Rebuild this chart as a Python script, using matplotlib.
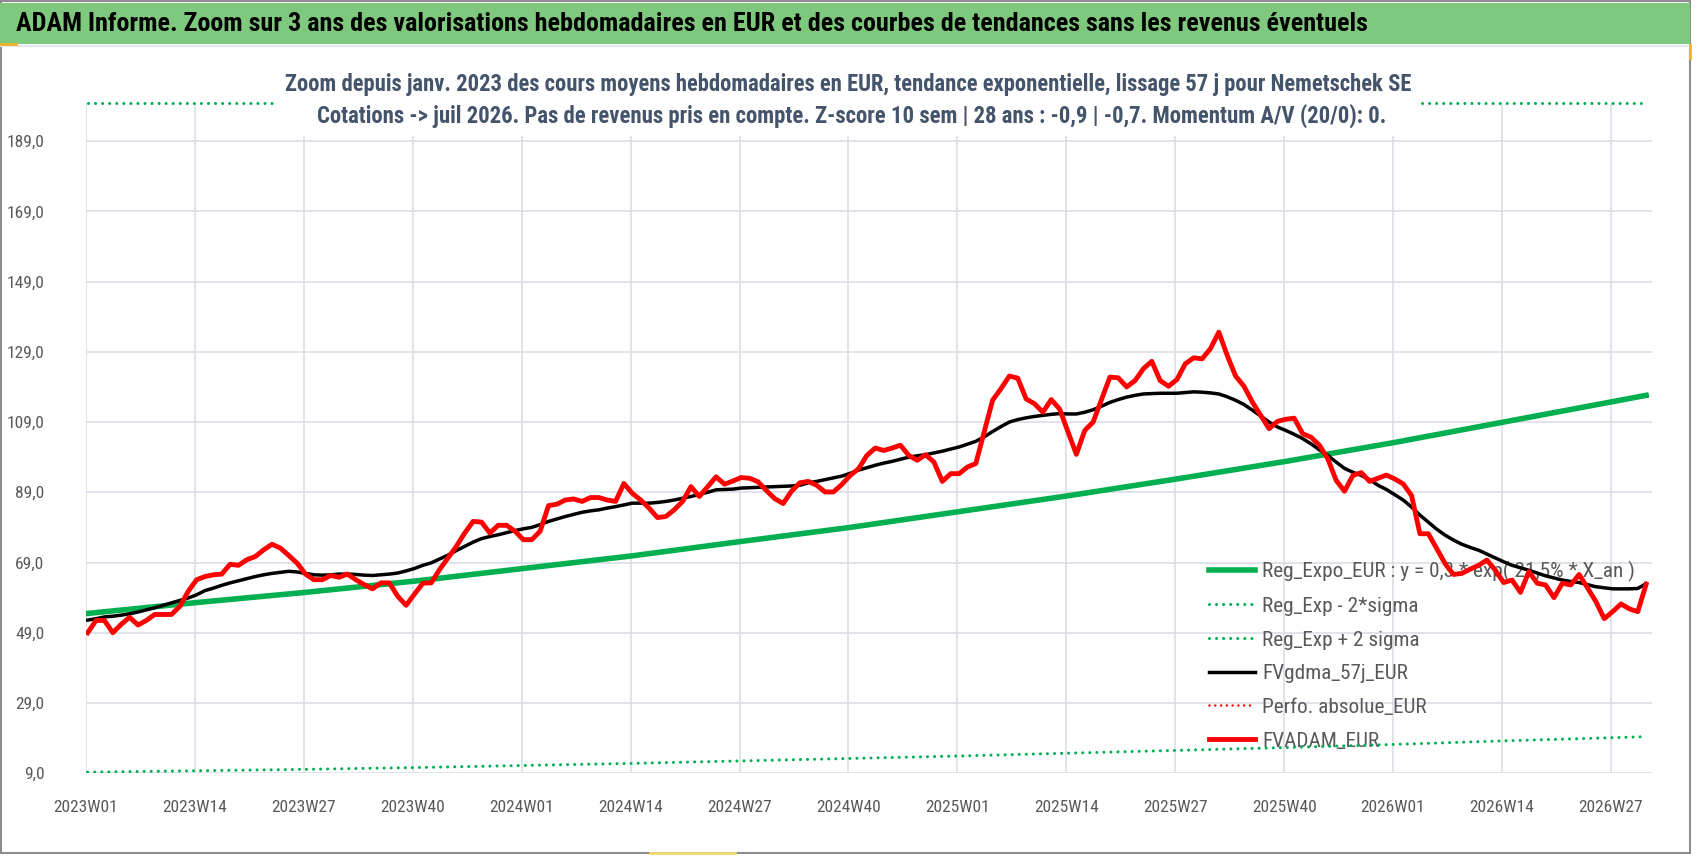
import numpy as np
import matplotlib
matplotlib.use("Agg")
import matplotlib.pyplot as plt
from matplotlib import font_manager as fm
from matplotlib.patches import Rectangle
from matplotlib.lines import Line2D

# ---- data (weekly, 2023W01 .. 2026W31) ----
tick_labels = ["2023W01", "2023W14", "2023W27", "2023W40", "2024W01", "2024W14", "2024W27",
               "2024W40", "2025W01", "2025W14", "2025W27", "2025W40", "2026W01", "2026W14",
               "2026W27"]

fvadam = [49.0, 52.5, 52.5, 49.0, 51.4, 53.4, 51.2, 52.5, 54.2, 54.2,
          54.2, 56.5, 60.8, 64.1, 65.0, 65.5, 65.7, 68.5, 68.2, 69.8,
          70.7, 72.6, 74.2, 73.1, 71.0, 68.8, 65.7, 64.1, 64.1, 65.3,
          64.8, 65.7, 64.1, 62.7, 61.5, 63.2, 63.2, 59.4, 56.8, 60.0,
          63.1, 63.2, 67.0, 70.3, 73.6, 77.4, 80.7, 80.5, 77.4, 79.6,
          79.6, 77.9, 75.5, 75.5, 77.9, 85.2, 85.6, 86.8, 87.1, 86.4,
          87.5, 87.5, 86.8, 86.4, 91.5, 88.7, 86.8, 84.5, 81.8, 82.1,
          84.0, 86.4, 90.6, 87.8, 90.6, 93.4, 91.3, 92.2, 93.2, 93.0,
          92.0, 89.5, 87.2, 85.8, 89.3, 91.7, 92.1, 91.0, 89.1, 89.1,
          91.2, 93.8, 95.7, 99.5, 101.6, 100.9, 101.6, 102.4, 99.5, 98.1,
          99.7, 97.6, 92.1, 94.3, 94.3, 96.2, 97.2, 106.2, 115.2, 118.5,
          122.1, 121.5, 115.6, 114.2, 111.8, 115.4, 112.7, 106.2, 99.8, 106.6,
          109.0, 115.4, 121.8, 121.6, 119.0, 120.8, 124.2, 126.3, 120.8, 119.2,
          121.1, 125.6, 127.3, 127.0, 129.9, 134.6, 128.0, 122.1, 119.2, 114.7,
          110.9, 107.1, 109.2, 109.8, 110.1, 105.7, 104.7, 102.4, 98.6, 92.4,
          89.3, 93.8, 94.6, 92.1, 93.0, 93.9, 92.8, 91.4, 88.1, 77.2,
          77.2, 73.0, 68.7, 65.6, 65.9, 67.1, 68.2, 69.7, 66.8, 63.3,
          64.0, 60.5, 66.4, 63.1, 62.6, 59.0, 63.1, 62.6, 65.6, 61.8,
          57.9, 53.0, 55.0, 57.2, 55.8, 55.0, 62.8]

fvgdma = [52.6, 53.0, 53.5, 53.7, 54.0, 54.4, 54.9, 55.5, 56.1, 56.8,
          57.5, 58.2, 58.9, 59.8, 61.0, 61.7, 62.5, 63.2, 63.8, 64.4,
          65.0, 65.5, 65.9, 66.2, 66.5, 66.3, 65.9, 65.5, 65.4, 65.5,
          65.7, 65.7, 65.6, 65.4, 65.3, 65.5, 65.7, 66.0, 66.6, 67.3,
          68.2, 68.9, 70.0, 71.1, 72.4, 73.6, 74.8, 75.8, 76.4, 76.9,
          77.5, 78.1, 78.6, 79.0, 79.8, 80.7, 81.4, 82.1, 82.7, 83.3,
          83.7, 84.0, 84.5, 84.9, 85.4, 85.9, 85.9, 85.9, 86.1, 86.4,
          86.8, 87.3, 87.8, 88.4, 89.0, 89.7, 89.8, 89.9, 90.2, 90.3,
          90.4, 90.5, 90.6, 90.7, 90.8, 91.0, 91.7, 92.1, 92.6, 93.1,
          93.6, 94.4, 95.3, 96.0, 96.7, 97.3, 97.8, 98.4, 99.0, 99.4,
          99.7, 100.2, 100.7, 101.3, 101.9, 102.7, 103.5, 104.8, 106.3, 107.7,
          109.0, 109.7, 110.2, 110.6, 110.9, 111.2, 111.4, 111.3, 111.3, 111.8,
          112.5, 113.5, 114.6, 115.4, 116.1, 116.6, 117.0, 117.1, 117.2, 117.2,
          117.2, 117.4, 117.6, 117.5, 117.3, 117.0, 116.2, 115.2, 114.0, 112.4,
          110.7, 109.0, 107.6, 106.6, 105.5, 104.3, 102.8, 101.1, 99.5, 97.6,
          95.8, 94.7, 93.8, 92.6, 91.0, 89.8, 88.3, 86.8, 84.8, 82.5,
          80.5, 78.5, 76.8, 75.4, 74.2, 73.3, 72.5, 71.4, 70.3, 69.2,
          68.2, 67.5, 66.8, 66.0, 65.2, 64.6, 64.0, 63.6, 63.3, 62.7,
          62.1, 61.8, 61.5, 61.5, 61.5, 61.6, 63.0]

# trend curves, read every 13 weeks (+ last week)
trend_weeks = [0, 13, 26, 39, 52, 65, 78, 91, 104, 117, 130, 143, 156, 169, 186]
reg_expo = [54.5, 57.6, 60.5, 63.7, 67.3, 70.9, 75.0, 79.0, 83.5, 88.0, 92.8, 97.8, 103.2, 109.0, 116.6]
reg_minus = [9.3, 9.7, 10.1, 10.6, 11.2, 11.8, 12.5, 13.2, 13.9, 14.7, 15.5, 16.3, 17.2, 18.2, 19.4]
reg_plus = [326, 345, 362, 381, 403, 424, 449, 473, 500, 527, 556, 585, 618, 652, 698]

title = ("ADAM Informe. Zoom sur 3 ans des valorisations hebdomadaires en EUR et des courbes "
         "de tendances sans les revenus éventuels")
sub1 = ("Zoom depuis janv. 2023 des cours moyens hebdomadaires en EUR, tendance exponentielle, "
        "lissage 57 j pour Nemetschek SE")
sub2 = ("Cotations -> juil 2026. Pas de revenus pris en compte. Z-score 10 sem | 28 ans : "
        "-0,9 | -0,7. Momentum A/V (20/0): 0.")
labels = ["Reg_Expo_EUR : y = 0,3 * exp( 21,5% * X_an )", "Reg_Exp - 2*sigma",
          "Reg_Exp + 2 sigma", "FVgdma_57j_EUR", "Perfo. absolue_EUR", "FVADAM_EUR"]


def pick_font(names):
    for n in names:
        try:
            fm.findfont(fm.FontProperties(family=n), fallback_to_default=False)
            return n
        except ValueError:
            pass
    return "DejaVu Sans"


NARROW = pick_font(["Liberation Sans Narrow", "Arial Narrow", "Roboto Condensed", "Liberation Sans"])
plt.rcParams["font.family"] = [NARROW, "DejaVu Sans"]

W, H = 1698, 856
fx = lambda x: x / W
fy = lambda y: 1 - y / H

GREEN = "#00b050"
RED = "#ff0000"
GREY = "#595959"
YMAX = 200
DOT = (0, (0.01, 2.3))

fig = plt.figure(figsize=(W / 100, H / 100), dpi=100)
renderer = fig.canvas.get_renderer()
ax = fig.add_axes([fx(86), fy(773.2), (1652 - 86) / W, (773.2 - 102.5) / H])

x = np.arange(len(fvadam)) + 0.2
xt = np.array(trend_weeks) + 0.2

ax.plot(xt, reg_expo, color=GREEN, lw=4.0, solid_joinstyle="round", zorder=3)
ax.plot(xt, reg_minus, color=GREEN, lw=2.2, ls=DOT, dash_capstyle="round", zorder=3)
# excel keeps the out-of-range curve on the plot border
ax.plot(xt, np.minimum(reg_plus, YMAX), color=GREEN, lw=2.2, ls=DOT,
        dash_capstyle="round", zorder=3, clip_on=False)
ax.plot(x, fvgdma, color="black", lw=2.5, solid_joinstyle="round", zorder=4)
ax.plot(x, fvadam, color=RED, lw=3.5, solid_joinstyle="round", zorder=5)

ax.set_xlim(0, 186.9)
ax.set_ylim(9, YMAX)
ax.set_yticks(np.arange(9, 190, 20))
ax.set_yticklabels([f"{v:.1f}".replace(".", ",") for v in np.arange(9, 190, 20)])
ax.set_xticks(np.arange(0, 183, 13))
ax.set_xticklabels(tick_labels)
ax.tick_params(axis="y", length=0, pad=30, labelsize=12.5, labelcolor=GREY)
ax.tick_params(axis="x", length=0, pad=19, labelsize=12.5, labelcolor=GREY)
ax.grid(True, color="#dadee6", lw=1.2)
ax.set_axisbelow(True)
for s in ax.spines.values():
    s.set_visible(False)

# legend font sized so the first label spans ~373 px like the original
tmp = fig.text(0, 0, labels[0], fontsize=13)
leg_fs = 13 * 373 / tmp.get_window_extent(renderer).width
tmp.remove()
fs_px = leg_fs * 100 / 72

handles = [
    Line2D([], [], color=GREEN, lw=4.0),
    Line2D([], [], color=GREEN, lw=2.2, ls=DOT, dash_capstyle="round"),
    Line2D([], [], color=GREEN, lw=2.2, ls=DOT, dash_capstyle="round"),
    Line2D([], [], color="black", lw=2.5),
    Line2D([], [], color=RED, lw=1.8, ls=DOT, dash_capstyle="round"),
    Line2D([], [], color=RED, lw=3.5),
]
leg = ax.legend(handles, labels, loc="upper left", bbox_to_anchor=(fx(1209), fy(561)),
                bbox_transform=fig.transFigure, frameon=False, fontsize=leg_fs,
                handlelength=46 / fs_px, handletextpad=7 / fs_px, labelspacing=0.69,
                borderpad=0, borderaxespad=0, labelcolor=GREY)
leg.set_zorder(1)

# frame, title bar
fig.add_artist(Rectangle((fx(1), fy(853)), fx(1690) - fx(1), (853 - 1) / H,
                         transform=fig.transFigure, fill=False, ec="#8c8c8c", lw=1.5, zorder=0))
fig.add_artist(Rectangle((0, fy(44)), fx(1690), 41 / H, transform=fig.transFigure,
                         fc="#7fc97f", ec="none", zorder=1))
fig.add_artist(Line2D([0, fx(1690)], [fy(46), fy(46)], transform=fig.transFigure,
                      color="#e3e6ea", lw=1.5, zorder=1))
fig.add_artist(Line2D([0, fx(16)], [fy(44), fy(44)], transform=fig.transFigure,
                      color="#f0b429", lw=2, zorder=2))
fig.add_artist(Line2D([fx(1690), fx(1690)], [fy(45), fy(58)], transform=fig.transFigure,
                      color="#f0b429", lw=2, zorder=2))
fig.add_artist(Line2D([fx(650), fx(735)], [fy(853), fy(853)], transform=fig.transFigure,
                      color="#f5d76e", lw=2, zorder=2))

# white box behind the subtitle
fig.add_artist(Rectangle((fx(276), fy(136)), fx(1419) - fx(276), (136 - 56) / H,
                         transform=fig.transFigure, fc="white", ec="none", zorder=2))

t_title = fig.text(fx(16), fy(24), title, fontsize=18, fontweight="bold", color="black",
                   ha="left", va="center", zorder=3)
t_sub1 = fig.text(fx(848), fy(84), sub1, fontsize=15, fontweight="bold", color="#44546a",
                  ha="center", va="center", zorder=3)
t_sub2 = fig.text(fx(852), fy(116), sub2, fontsize=15, fontweight="bold", color="#44546a",
                  ha="center", va="center", zorder=3)

for t, target in [(t_title, 1351), (t_sub1, 1129), (t_sub2, 1070)]:
    w = t.get_window_extent(renderer).width
    t.set_fontsize(t.get_fontsize() * target / w)

fig.savefig("out.png", dpi=100)
